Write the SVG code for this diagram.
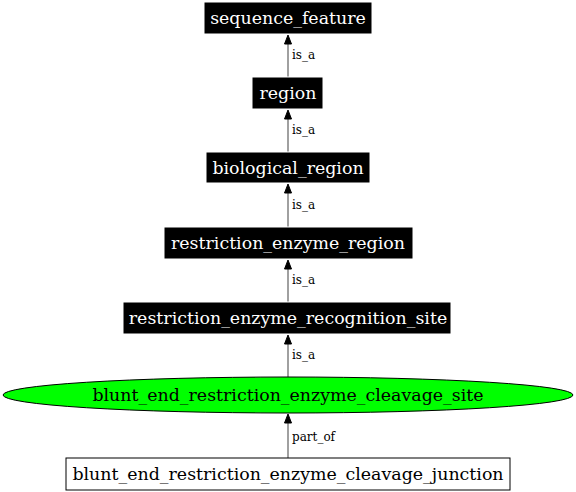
<svg xmlns="http://www.w3.org/2000/svg" width="576" height="492" viewBox="0 0 576 492">
<style>
.bx{fill:#000;stroke:#fff;stroke-width:1}
.wt{fill:#fff;font-family:"DejaVu Serif",serif;font-size:17.4px;text-anchor:middle}
.bt{fill:#000;font-family:"DejaVu Serif",serif;font-size:17.4px;text-anchor:middle}
.el{fill:#000;font-family:"DejaVu Serif",serif;font-size:12px}
.e{stroke:#808080;stroke-width:1.5;fill:none}
.ah{fill:#000;stroke:#000}
</style>
<rect width="576" height="492" fill="#fff"/>
<g id="edges">
<line class="e" x1="288" y1="78" x2="288" y2="44"/><polygon class="ah" points="284.5,44 288,35 291.5,44"/><text class="el" x="292" y="59">is_a</text>
<line class="e" x1="288" y1="152" x2="288" y2="119"/><polygon class="ah" points="284.5,119 288,110 291.5,119"/><text class="el" x="292" y="134">is_a</text>
<line class="e" x1="288" y1="227" x2="288" y2="193"/><polygon class="ah" points="284.5,193 288,184 291.5,193"/><text class="el" x="292" y="209">is_a</text>
<line class="e" x1="288" y1="302" x2="288" y2="269"/><polygon class="ah" points="284.5,269 288,260 291.5,269"/><text class="el" x="292" y="284">is_a</text>
<line class="e" x1="288" y1="377" x2="288" y2="344"/><polygon class="ah" points="284.5,344 288,335 291.5,344"/><text class="el" x="292" y="359">is_a</text>
<line class="e" x1="288" y1="458" x2="288" y2="423"/><polygon class="ah" points="284.5,423 288,414 291.5,423"/><text class="el" x="292" y="441">part_of</text>
</g>
<g id="n1"><rect class="bx" x="204" y="2" width="168" height="32"/><text class="wt" x="288" y="24">sequence_feature</text></g>
<g id="n2"><rect class="bx" x="252" y="77" width="71" height="32"/><text class="wt" x="288" y="99">region</text></g>
<g id="n3"><rect class="bx" x="206" y="152" width="164" height="31"/><text class="wt" x="288" y="174">biological_region</text></g>
<g id="n4"><rect class="bx" x="164" y="227" width="249" height="32"/><text class="wt" x="288" y="249">restriction_enzyme_region</text></g>
<g id="n5"><rect class="bx" x="123" y="302" width="328" height="32"/><text class="wt" x="288" y="324">restriction_enzyme_recognition_site</text></g>
<g id="n6"><ellipse cx="288" cy="395" rx="285" ry="18" fill="#00ff00" stroke="#000" stroke-width="1"/><text class="bt" x="288" y="401">blunt_end_restriction_enzyme_cleavage_site</text></g>
<g id="n7"><rect x="66" y="458" width="444" height="32" fill="#fff" stroke="#000" stroke-width="1"/><text class="bt" x="288" y="480">blunt_end_restriction_enzyme_cleavage_junction</text></g>
</svg>
